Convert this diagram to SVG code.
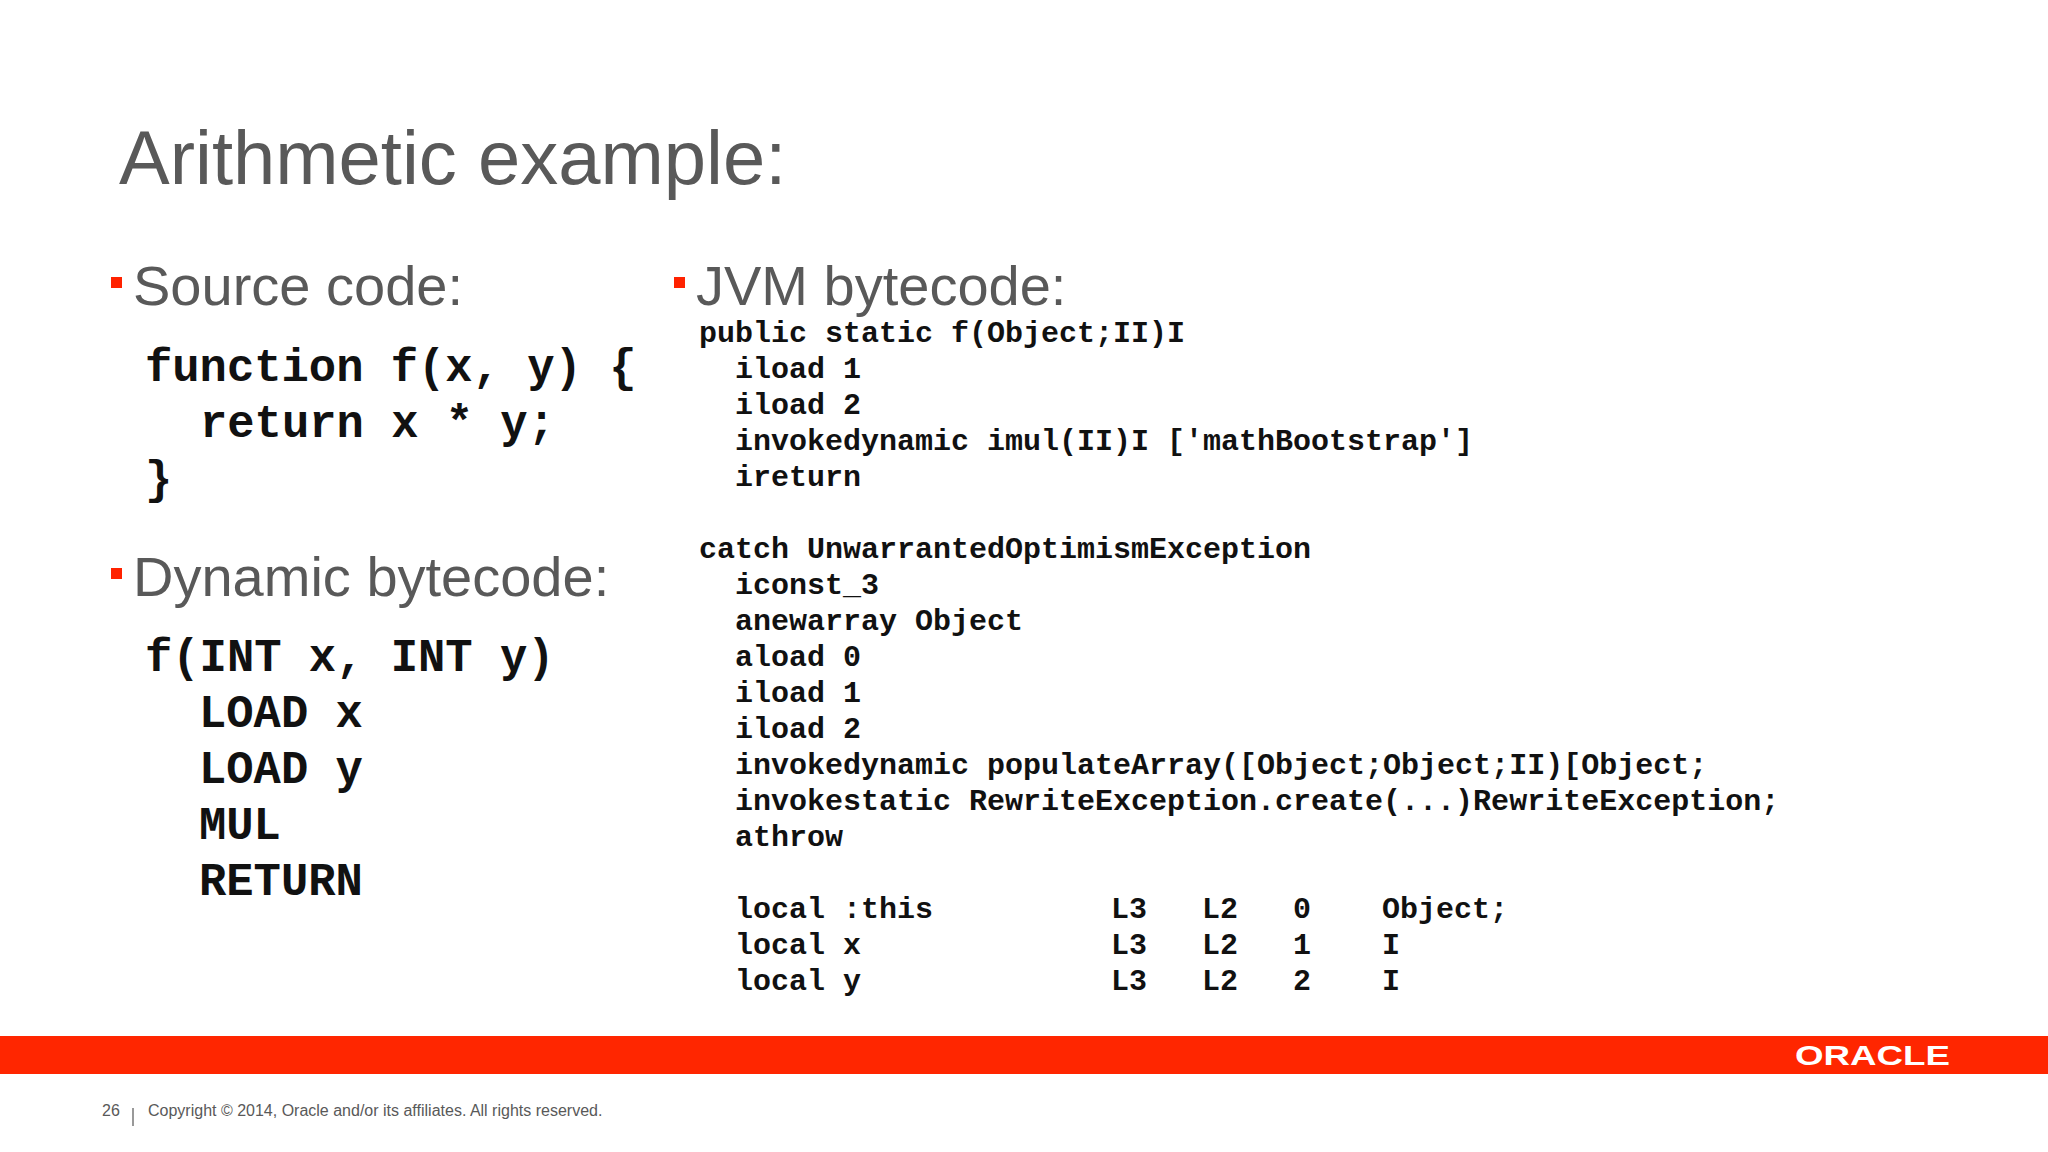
<svg xmlns="http://www.w3.org/2000/svg" width="2048" height="1152" viewBox="0 0 2048 1152">
<style>
.t{font-family:"Liberation Sans",Arial,sans-serif;fill:#595959}
.c{font-family:"Liberation Mono","Courier New",monospace;font-weight:bold;fill:#111}
.b{fill:#ff2200}
</style>
<rect width="2048" height="1152" fill="#fff"/>
<text class="t" x="119" y="184" font-size="76">Arithmetic example:</text>
<g id="source">
<rect class="b" x="111" y="277" width="11" height="11"/>
<text class="t" x="133" y="305" font-size="56">Source code:</text>
<g class="c" font-size="45.5">
<text x="145" y="381">function f(x, y) {</text>
<text x="200" y="437">return x * y;</text>
<text x="145" y="493">}</text>
</g>
</g>
<g id="dynamic">
<rect class="b" x="111" y="568" width="11" height="11"/>
<text class="t" x="133" y="596" font-size="56">Dynamic bytecode:</text>
<g class="c" font-size="45.5">
<text x="145" y="671">f(INT x, INT y)</text>
<text x="199" y="727">LOAD x</text>
<text x="199" y="783">LOAD y</text>
<text x="199" y="839">MUL</text>
<text x="199" y="895">RETURN</text>
</g>
</g>
<g id="jvm">
<rect class="b" x="674" y="277" width="11" height="11"/>
<text class="t" x="696" y="305" font-size="56">JVM bytecode:</text>
<g class="c" font-size="30">
<text x="699" y="342">public static f(Object;II)I</text>
<text x="735" y="378">iload 1</text>
<text x="735" y="414">iload 2</text>
<text x="735" y="450">invokedynamic imul(II)I ['mathBootstrap']</text>
<text x="735" y="486">ireturn</text>
<text x="699" y="558">catch UnwarrantedOptimismException</text>
<text x="735" y="594">iconst_3</text>
<text x="735" y="630">anewarray Object</text>
<text x="735" y="666">aload 0</text>
<text x="735" y="702">iload 1</text>
<text x="735" y="738">iload 2</text>
<text x="735" y="774">invokedynamic populateArray([Object;Object;II)[Object;</text>
<text x="735" y="810">invokestatic RewriteException.create(...)RewriteException;</text>
<text x="735" y="846">athrow</text>
<text x="735" y="918">local :this</text><text x="1111" y="918">L3</text><text x="1202" y="918">L2</text><text x="1293" y="918">0</text><text x="1382" y="918">Object;</text>
<text x="735" y="954">local x</text><text x="1111" y="954">L3</text><text x="1202" y="954">L2</text><text x="1293" y="954">1</text><text x="1382" y="954">I</text>
<text x="735" y="990">local y</text><text x="1111" y="990">L3</text><text x="1202" y="990">L2</text><text x="1293" y="990">2</text><text x="1382" y="990">I</text>
</g>
</g>
<g id="footer">
<rect x="0" y="1036" width="2048" height="38" fill="#ff2600"/>
<text x="1795" y="1065" font-family="Liberation Sans,Arial,sans-serif" font-size="28" font-weight="bold" fill="#fff" textLength="155" lengthAdjust="spacingAndGlyphs">ORACLE</text>
<text class="t" x="102" y="1116" font-size="16">26</text>
<line x1="133" y1="1108" x2="133" y2="1126" stroke="#777" stroke-width="1.5"/>
<text class="t" x="148" y="1116" font-size="16">Copyright © 2014, Oracle and/or its affiliates. All rights reserved.</text>
</g>
</svg>
